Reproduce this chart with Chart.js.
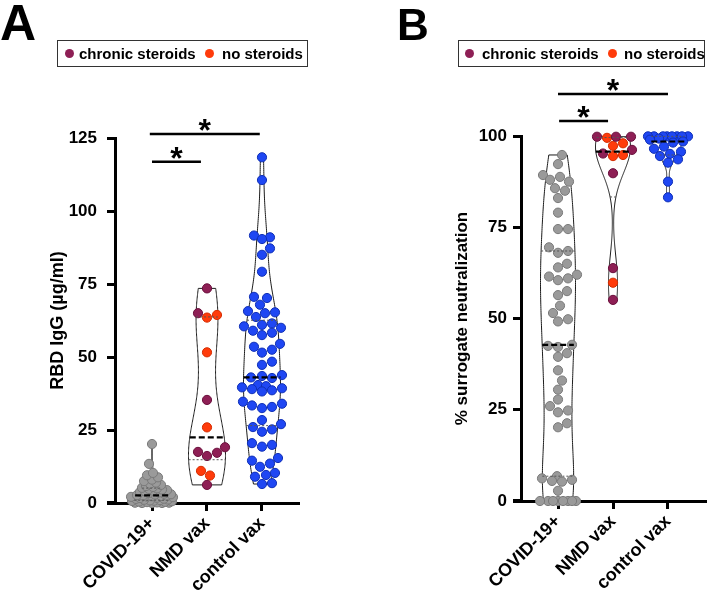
<!DOCTYPE html>
<html>
<head>
<meta charset="utf-8">
<script src="https://cdn.jsdelivr.net/npm/chart.js@4.4.0/dist/chart.umd.min.js"></script>
<style>
  body { margin: 0; background: #fff; }
  #wrap { position: relative; width: 714px; height: 595px; overflow: hidden;
          font-family: 'Liberation Sans', Arial, Helvetica, sans-serif; color: #000; }
  canvas { position: absolute; top: 0; }
  #chartA { left: 0; }
  #chartB { left: 357px; }
  .letter { position: absolute; font-weight: bold; line-height: 1; }
  .legend { position: absolute; top: 40px; height: 27px; box-sizing: border-box;
            border: 1px solid #333; font-weight: bold; font-size: 15px; white-space: nowrap; }
  .legend .dot { position: absolute; top: 8px; width: 9px; height: 9px; border-radius: 50%; }
  .legend .lbl { position: absolute; top: 0; line-height: 25px; }
</style>
</head>
<body>
<div id="wrap">
  <canvas id="chartA" width="357" height="595"></canvas>
  <canvas id="chartB" width="357" height="595"></canvas>

  <div class="letter" style="left:0px;top:-2px;font-size:50px">A</div>
  <div class="letter" style="left:397px;top:3px;font-size:44px">B</div>

  <div class="legend" style="left:57px;width:251px">
    <span class="dot" style="left:7px;background:#8e1f55"></span><span class="lbl" style="left:21px">chronic steroids</span>
    <span class="dot" style="left:147px;background:#ff3b0b"></span><span class="lbl" style="left:164px">no steroids</span>
  </div>
  <div class="legend" style="left:458px;width:247px">
    <span class="dot" style="left:6px;background:#8e1f55"></span><span class="lbl" style="left:23px">chronic steroids</span>
    <span class="dot" style="left:149px;background:#ff3b0b"></span><span class="lbl" style="left:165px">no steroids</span>
  </div>
</div>

<script>
/* ── Violin + beeswarm panels (RBD IgG / surrogate neutralization) ── */

Chart.defaults.font.family = "'Liberation Sans', Arial, Helvetica, sans-serif";
Chart.defaults.color = '#000';

// ── Categories & ticks ──
const groups = ['COVID-19+', 'NMD vax', 'control vax'];
const iggTicks = [0, 25, 50, 75, 100, 125];
const neutTicks = [0, 25, 50, 75, 100];

// ── Panel A: RBD IgG (µg/ml) ──
const iggCovid = [0, 0, 0, 0.1, 0.1, 0.2, 0.3, 0.4, 0.5, 0.6, 0.7, 0.8, 0.9, 1.0, 1.1,
  1.2, 1.4, 1.5, 1.7, 1.8, 2.0, 2.1, 2.2, 2.3, 2.4, 2.5, 2.6, 2.7, 2.9, 3.0, 3.2, 3.4,
  3.6, 3.8, 4.0, 4.2, 4.4, 4.6, 4.8, 5.0, 5.2, 5.5, 5.8, 6.2, 6.6, 7.0, 7.5, 8.0, 8.8,
  9.5, 10.3, 13.4, 20.2];
const iggNmdChronic = [73.5, 65.0, 35.3, 19.1, 17.5, 17.2, 16.1, 6.2];
const iggNmdNone = [64.4, 63.5, 51.6, 25.9, 11.0, 9.4];
const iggControl = [118.4, 110.6, 91.6, 91.0, 90.4, 87.2, 85.0, 79.2, 70.6, 70.2, 67.9,
  65.7, 65.3, 65.0, 63.7, 61.5, 61.0, 60.5, 60.0, 59.0, 58.3, 57.5, 54.5, 53.5, 52.5,
  51.5, 48.4, 47.3, 43.8, 43.5, 43.0, 42.8, 40.4, 40.0, 39.6, 39.3, 39.0, 38.6, 38.2,
  34.7, 34.0, 33.4, 32.9, 32.5, 28.4, 27.0, 26.0, 25.2, 24.4, 20.5, 19.9, 19.3, 15.4,
  14.5, 13.5, 12.4, 10.3, 9.6, 9.0, 6.8, 6.5];
// significance bars: [from group, to group, height]
const iggSig = [[0, 0.89, 116.9], [-0.04, 1.96, 126.4]];

// ── Panel B: % surrogate neutralization ──
const neutCovid = [94.8, 92.3, 89.3, 88.8, 88.0, 87.5, 85.7, 85.0, 83.0,
  79.0, 74.5, 74.5, 69.5, 68.5, 68.0, 65.0, 64.0, 62.0, 61.5, 61.0, 60.5, 57.5, 56.4,
  53.5, 51.5, 49.8, 49.2, 42.8, 42.5, 42.2, 40.5, 39.5, 35.8, 33.0, 30.5, 27.8, 26.0,
  24.8, 24.3, 21.3, 20.2, 6.8, 6.2, 5.8, 5.5, 5.3, 2.8, 0, 0, 0, 0, 0, 0, 0, 0];
const neutNmdChronic = [99.8, 99.8, 99.8, 96.2, 95.2, 89.8, 63.8, 55.1];
const neutNmdNone = [99.5, 98.0, 97.3, 94.8, 94.5, 59.8];
const neutControl = [99.9, 99.9, 99.9, 99.9, 99.9, 99.9, 99.9, 99.9, 99.3, 99.0, 98.5,
  98.2, 97.1, 96.5, 95.7, 95.1, 94.5, 93.6, 92.7, 87.5, 83.2];
const neutSig = [[0.02, 0.91, 104.1], [0, 2, 111.5]];

const colors = {
  covid:   ['#9a9a9a', '#7a7a7a'],
  chronic: ['#8e1f55', '#6a0f3c'],
  none:    ['#ff3b0b', '#d42c00'],
  control: ['#1f47f3', '#0f2fb5'],
};

// ══════════════════════════════════════════════
// STATS HELPERS
// ══════════════════════════════════════════════
function quantile(sorted, p) {
  const n = sorted.length;
  let pos = p * (n + 1) - 1;
  pos = Math.min(Math.max(pos, 0), n - 1);
  const lo = Math.floor(pos), hi = Math.ceil(pos);
  return sorted[lo] + (sorted[hi] - sorted[lo]) * (pos - lo);
}

function bandwidth(sorted) {
  const n = sorted.length;
  const mean = sorted.reduce((s, v) => s + v, 0) / n;
  const sd = Math.sqrt(sorted.reduce((s, v) => s + (v - mean) ** 2, 0) / (n - 1));
  const iqr = quantile(sorted, 0.75) - quantile(sorted, 0.25);
  const s = iqr > 0 ? Math.min(sd, iqr / 1.34) : sd;
  return 0.9 * s * Math.pow(n, -0.2);
}

function density(vals, h, y) {
  let s = 0;
  for (const v of vals) { const z = (y - v) / h; s += Math.exp(-0.5 * z * z); }
  return s;
}

// place points sideways so they don't pile up, kept inside the violin
function swarm(els, cx, limit, r) {
  const order = els.slice().sort((a, b) => b.y - a.y);
  const placed = [];
  const gap = 2 * r + 0.5;
  for (const el of order) {
    const lim = Math.max(1, Math.round(limit(el.y)));
    let pick = 0, best = -1;
    for (let k = 0; k <= 2 * lim; k++) {
      const off = k === 0 ? 0 : (k % 2 ? 1 : -1) * Math.ceil(k / 2);
      let dmin = Infinity;
      for (const p of placed) {
        const d = Math.hypot(cx + off - p.x, el.y - p.y);
        if (d < dmin) dmin = d;
      }
      if (dmin >= gap) { pick = off; break; }
      if (dmin > best + 0.01) { best = dmin; pick = off; }
    }
    el.x = cx + pick;
    placed.push({ x: el.x, y: el.y });
  }
}

// ══════════════════════════════════════════════
// VIOLIN PLUGIN
// ══════════════════════════════════════════════
function violinPlugin(panel) {
  return {
    id: 'violin',
    afterDatasetsUpdate(chart) {
      const xs = chart.scales.x, ys = chart.scales.y;
      const byGroup = new Map();
      chart.data.datasets.forEach((ds, di) => {
        chart.getDatasetMeta(di).data.forEach((el, i) => {
          const g = ds.data[i].x;
          if (!byGroup.has(g)) byGroup.set(g, { vals: [], els: [] });
          byGroup.get(g).vals.push(ds.data[i].y);
          byGroup.get(g).els.push(el);
        });
      });
      chart.$violins = [];
      byGroup.forEach((grp, g) => {
        const sorted = grp.vals.slice().sort((a, b) => a - b);
        const h = bandwidth(sorted) * panel.bwScale;
        const lo = sorted[0], hi = sorted[sorted.length - 1];
        const steps = 160;
        const prof = [];
        let dmax = 0;
        for (let k = 0; k <= steps; k++) {
          const v = lo + (hi - lo) * k / steps;
          const d = density(sorted, h, v);
          prof.push([v, d]);
          if (d > dmax) dmax = d;
        }
        const cx = xs.getPixelForValue(g);
        const halfAt = v => (v < lo || v > hi) ? 0 : panel.maxHW * density(sorted, h, v) / dmax;
        chart.$violins.push({
          cx, halfAt,
          shape: prof.map(([v, d]) => [ys.getPixelForValue(v), panel.maxHW * d / dmax]),
          med: quantile(sorted, 0.5), q1: quantile(sorted, 0.25), q3: quantile(sorted, 0.75),
        });
        swarm(grp.els, cx, y => halfAt(ys.getValueForPixel(y)) + 3, panel.r);
      });
    },
    beforeDatasetsDraw(chart) {
      const ctx = chart.ctx;
      ctx.save();
      ctx.lineWidth = 1;
      ctx.strokeStyle = '#1a1a1a';
      for (const v of chart.$violins) {
        ctx.beginPath();
        v.shape.forEach(([y, w], i) => i ? ctx.lineTo(v.cx - w, y) : ctx.moveTo(v.cx - w, y));
        for (let i = v.shape.length - 1; i >= 0; i--) ctx.lineTo(v.cx + v.shape[i][1], v.shape[i][0]);
        ctx.closePath();
        ctx.stroke();
      }
      ctx.restore();
    },
    afterDatasetsDraw(chart) {
      const ctx = chart.ctx, ys = chart.scales.y;
      const hline = (v, val, width, color, dash) => {
        const y = ys.getPixelForValue(val), w = v.halfAt(val);
        ctx.lineWidth = width; ctx.strokeStyle = color; ctx.setLineDash(dash);
        ctx.beginPath(); ctx.moveTo(v.cx - w, y); ctx.lineTo(v.cx + w, y); ctx.stroke();
      };
      ctx.save();
      for (const v of chart.$violins) {
        hline(v, v.q1, 1, '#555', [2, 2]);
        hline(v, v.q3, 1, '#555', [2, 2]);
        hline(v, v.med, 2.2, '#000', [6, 3]);
      }
      ctx.restore();
    },
    afterDraw(chart) {
      const ctx = chart.ctx, xs = chart.scales.x, ys = chart.scales.y;
      const { left, bottom } = chart.chartArea;
      ctx.save();
      // x axis runs a little past the y axis
      ctx.lineWidth = 3; ctx.strokeStyle = '#000';
      ctx.beginPath(); ctx.moveTo(left - 8, bottom - 0.5); ctx.lineTo(left, bottom - 0.5); ctx.stroke();
      // significance bars
      ctx.lineWidth = 2.5;
      ctx.fillStyle = '#000';
      ctx.font = "bold 32px 'Liberation Sans', Arial, sans-serif";
      ctx.textAlign = 'center';
      for (const [a, b, val] of panel.sig) {
        const x1 = xs.getPixelForValue(a), x2 = xs.getPixelForValue(b), y = ys.getPixelForValue(val);
        ctx.beginPath(); ctx.moveTo(x1, y); ctx.lineTo(x2, y); ctx.stroke();
        const m = ctx.measureText('*');
        const cy = y - 9;
        ctx.fillText('*', (x1 + x2) / 2, cy + (m.actualBoundingBoxAscent - m.actualBoundingBoxDescent) / 2);
      }
      ctx.restore();
    },
  };
}

// ══════════════════════════════════════════════
// PANELS
// ══════════════════════════════════════════════
function makeSeries(label, values, group, key) {
  return {
    label,
    data: values.map(v => ({ x: group, y: v })),
    backgroundColor: colors[key][0],
    borderColor: colors[key][1],
    borderWidth: 1,
    pointRadius: 4.6,
    clip: false,
  };
}

function buildPanel(id, panel) {
  const axisGrid = { drawOnChartArea: false, tickLength: 8, lineWidth: 3, color: '#000' };
  const axisBorder = { width: 3, color: '#000' };
  return new Chart(document.getElementById(id), {
    type: 'scatter',
    data: { datasets: panel.series },
    options: {
      responsive: false,
      animation: false,
      events: [],
      layout: { padding: { top: panel.padTop, left: panel.padLeft, right: panel.padRight, bottom: 0 } },
      plugins: { legend: { display: false }, tooltip: { enabled: false } },
      scales: {
        x: {
          type: 'linear', min: -0.673, max: panel.xMax,
          afterBuildTicks: s => { s.ticks = groups.map((g, i) => ({ value: i })); },
          afterFit: s => { s.height = panel.xAxisH; },
          ticks: { callback: v => groups[v], minRotation: 45, maxRotation: 45, autoSkip: false,
                   color: '#000', font: { size: 18, weight: 'bold' }, padding: 2 },
          grid: axisGrid, border: axisBorder,
        },
        y: {
          min: 0, max: panel.yMax,
          afterBuildTicks: s => { s.ticks = panel.ticks.map(v => ({ value: v })); },
          afterFit: s => { s.width = panel.yAxisW; },
          title: { display: true, text: panel.yTitle, color: '#000',
                   font: { size: panel.titleSize, weight: 'bold' }, padding: 0 },
          ticks: { color: '#000', font: { size: 17, weight: 'bold' }, padding: panel.tickPad },
          grid: axisGrid, border: axisBorder,
        },
      },
    },
    plugins: [violinPlugin(panel)],
  });
}

buildPanel('chartA', {
  series: [
    makeSeries('COVID-19+', iggCovid, 0, 'covid'),
    makeSeries('chronic steroids', iggNmdChronic, 1, 'chronic'),
    makeSeries('no steroids', iggNmdNone, 1, 'none'),
    makeSeries('control vax', iggControl, 2, 'control'),
  ],
  ticks: iggTicks, yMax: 125, yTitle: 'RBD IgG (µg/ml)', titleSize: 18, sig: iggSig,
  padTop: 138, padLeft: 47, padRight: 59, yAxisW: 68, xAxisH: 92, xMax: 2.655, tickPad: 10,
  maxHW: 18.5, r: 4.6, bwScale: 1,
});

buildPanel('chartB', {
  series: [
    makeSeries('COVID-19+', neutCovid, 0, 'covid'),
    makeSeries('chronic steroids', neutNmdChronic, 1, 'chronic'),
    makeSeries('no steroids', neutNmdNone, 1, 'none'),
    makeSeries('control vax', neutControl, 2, 'control'),
  ],
  ticks: neutTicks, yMax: 100, yTitle: '% surrogate neutralization', titleSize: 17, sig: neutSig,
  padTop: 136, padLeft: 95, padRight: 9, yAxisW: 69, xAxisH: 94, xMax: 2.673, tickPad: 6,
  maxHW: 17.5, r: 4.6, bwScale: 1,
});
</script>
</body>
</html>
